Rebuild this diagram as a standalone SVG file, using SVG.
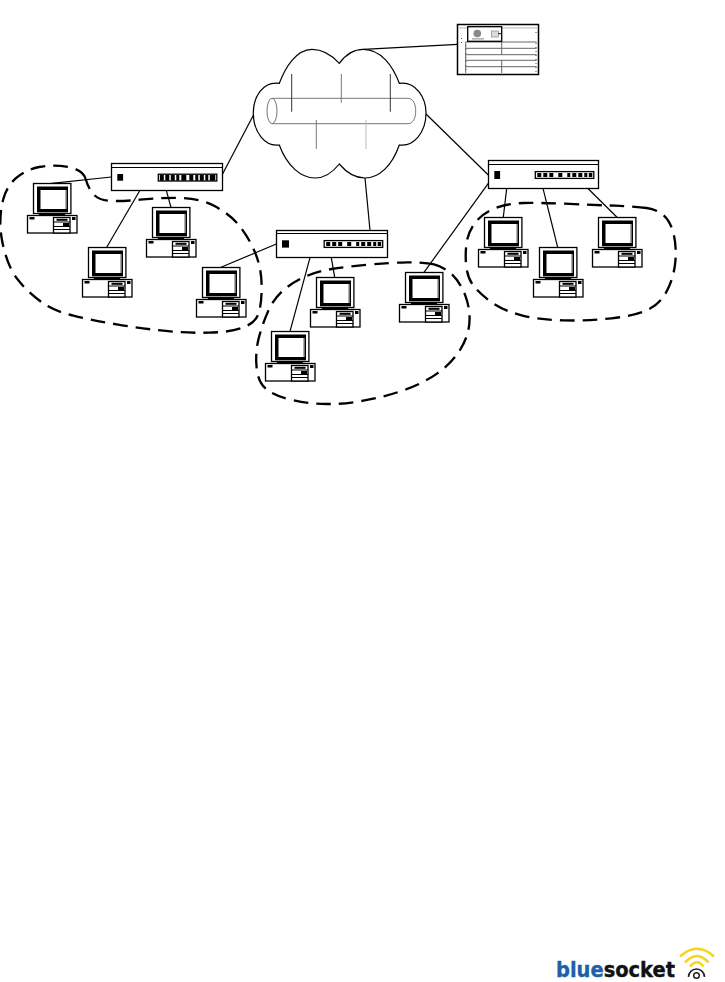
<svg xmlns="http://www.w3.org/2000/svg" xmlns:xlink="http://www.w3.org/1999/xlink" width="725" height="982" viewBox="0 0 725 982">
<style>
.ln{fill:none;stroke:#000;stroke-width:1.2}
.blob{fill:none;stroke:#000;stroke-width:7;stroke-dasharray:44 24}
.box{fill:#fff;stroke:#000;stroke-width:1.3}
.k{fill:#000}
.g{fill:none;stroke:#555;stroke-width:.9}
.logo{font-family:"DejaVu Sans","Liberation Sans",sans-serif;font-weight:700;font-size:21.5px;stroke-width:.4}
</style>
<defs>
<g id="pc">
<rect class="box" x="0" y="0" width="37.4" height="30"/>
<rect class="k" x="3.500" y="3" width="31" height="25.800"/>
<rect x="7" y="6.500" width="25" height="19" fill="#fff"/>
<rect x="32" y="6.500" width="1" height="19" fill="#ddd"/>
<path class="ln" d="M6 30V32M31 30V32M6 31H31"/>
<rect class="box" x="-6" y="32" width="49.500" height="17.500"/>
<rect class="k" x="-4" y="33.500" width="5" height="2.500"/>
<rect class="box" x="20" y="34" width="16.500" height="15.500"/>
<path class="ln" d="M20 38.500H36.500M20 43H36.500M20 46H36.500"/>
<rect class="k" x="23" y="35.300" width="11" height="2"/>
<rect class="k" x="29.500" y="39.500" width="6" height="3.500"/>
<rect class="k" x="38.500" y="33.500" width="3.500" height="3"/>
</g>
<g id="ports">
<rect class="box" x="0" y="0" width="58.500" height="6.800"/>
<path class="k" d="M2 1.500h4v4h-4zM8 1.500h4v4h-4zM14 1.500h4v4h-4zM23 1.500h4v4h-4zM32 1.500h3v4h-3zM37 1.500h4v4h-4zM43 1.500h4v4h-4zM49 1.500h3v4h-3zM53.500 1.500h3.500v4h-3.500z"/>
</g>
<g id="portsDense">
<rect class="box" x="0" y="0" width="58.500" height="6.800"/>
<path class="k" d="M1.500 .5h4v6h-4zM7 .5h4v6h-4zM12.500 .5h4v6h-4zM18 .5h3v6h-3zM23 .5h5v6h-5zM31 .5h4v6h-4zM37 .5h3v6h-3zM41.500 .5h4v6h-4zM47 .5h3v6h-3zM51.500 .5h5.500v6h-5.500z"/>
</g>
</defs>
<g id="connectors" class="ln">
<path d="M363.300 49.300L457.700 44.300"/>
<path d="M221 177L254 114"/>
<path d="M426 114L488.300 175"/>
<path d="M365 178L370 230.300"/>
<path d="M111.300 177L51.700 183.300"/>
<path d="M140 190.300L106.700 247.300"/>
<path d="M166.300 190.300L171 207.300"/>
<path d="M276.300 244L221 267.300"/>
<path d="M331.300 257.700L334.700 277.300"/>
<path d="M310 257.700L290 331.300"/>
<path d="M488.300 183.300L424 272.300"/>
<path d="M506.700 188.300L503.300 217.300"/>
<path d="M543 188.300L557.700 247.300"/>
<path d="M587.700 188.300L617 217.300"/>
</g>
<g id="cloud">
<path fill="#fff" stroke="#000" stroke-width="1.200" d="M339.300 63.300C330 53 321 49.300 312 49.300C296 49.300 285 68 279.300 83.300C262 81 253.300 98 253.300 113C253.300 132 265 147 279.300 145C287 166 301 178 315 178C325 178 333 172 339.300 164C346 172 355 178 365 178C379 178 392 166 399.300 145C414 147 426 132 426 113C426 98 416 81 399.300 83.300C393 66 381 49.300 363.300 49.300C354 49.300 346 54 339.300 63.300Z"/>
<path fill="none" stroke="#777" stroke-width="1" d="M272 98.300H408C413 98.300 415.700 104 415.700 111C415.700 118 413 123.700 408 123.700H272"/>
<ellipse cx="272" cy="111" rx="5" ry="12.700" fill="none" stroke="#777" stroke-width="1"/>
<path fill="none" stroke="#333" stroke-width="1" d="M291.700 74V111.700M390.300 74V111.700"/>
<path fill="none" stroke="#777" stroke-width="1" d="M341.300 74V102.700M316.300 120V149"/>
<path fill="none" stroke="#bbb" stroke-width="1" d="M366 120V149"/>
</g>
<g id="server">
<rect x="457.500" y="24.500" width="81" height="50" fill="#fff" stroke="#000" stroke-width="1.500"/>
<path fill="none" stroke="#999" stroke-width=".7" d="M459 28H537"/>
<path class="g" d="M465.700 42H536.700M465.700 48.300H536.700M465.700 54.700H536.700M465.700 60.300H536.700M465.700 66.700H536.700M501.700 42V54.700M501.700 60.300V73M465.700 42V73"/>
<rect x="467.700" y="26.700" width="34" height="14.600" fill="#fff" stroke="#000" stroke-width="1.300"/>
<circle cx="477.300" cy="33.500" r="3.800" fill="#888"/>
<rect x="491.500" y="31" width="7" height="6" fill="#ddd" stroke="#888" stroke-width=".7"/>
<rect x="472" y="38.500" width="12" height=".8" fill="#666"/>
<rect x="498" y="33" width="3" height="1.200" fill="#333"/>
<path fill="none" stroke="#444" stroke-width="1" stroke-dasharray="1 3" d="M461.500 38V44M536 32V36M536 43V73M465.700 45V72"/>
</g>
<g id="switch1">
<rect class="box" x="111.500" y="163.500" width="111" height="27"/>
<path class="ln" d="M111.500 167.500H222.500"/>
<rect class="k" x="117.300" y="174" width="5.800" height="6.700"/>
<use href="#portsDense" xlink:href="#portsDense" x="158.300" y="174.200"/>
</g>
<g id="switch2">
<rect class="box" x="276.500" y="230.500" width="111" height="27"/>
<path class="ln" d="M276.500 233.500H387.500"/>
<rect class="k" x="282" y="240.300" width="7" height="7.300"/>
<use href="#ports" xlink:href="#ports" x="324.200" y="240.600"/>
</g>
<g id="switch3">
<rect class="box" x="488.500" y="160.500" width="110" height="28"/>
<path class="ln" d="M488.500 164.500H598.500"/>
<rect class="k" x="494.300" y="171" width="5.800" height="8"/>
<use href="#ports" xlink:href="#ports" x="535.300" y="171.600"/>
</g>
<g id="pc1"><use href="#pc" xlink:href="#pc" x="33.500" y="183.500"/></g>
<g id="pc2"><use href="#pc" xlink:href="#pc" x="88.500" y="247.500"/></g>
<g id="pc3"><use href="#pc" xlink:href="#pc" x="152.500" y="207.500"/></g>
<g id="pc4"><use href="#pc" xlink:href="#pc" x="202.500" y="267.500"/></g>
<g id="pc5"><use href="#pc" xlink:href="#pc" x="316.500" y="277.500"/></g>
<g id="pc6"><use href="#pc" xlink:href="#pc" x="271.500" y="331.500"/></g>
<g id="pc7"><use href="#pc" xlink:href="#pc" x="405.500" y="272.500"/></g>
<g id="pc8"><use href="#pc" xlink:href="#pc" x="484.500" y="217.500"/></g>
<g id="pc9"><use href="#pc" xlink:href="#pc" x="539.500" y="247.500"/></g>
<g id="pc10"><use href="#pc" xlink:href="#pc" x="598.500" y="217.500"/></g>
<g id="segments">
<path class="blob" transform="translate(0,155) scale(.33333)" d="M257 72Q250 45 205 36Q160 28 117 36Q75 45 47 70Q20 95 10 132Q0 170 1 210Q2 250 16 297Q30 345 55 376Q80 408 120 438Q160 468 220 482Q280 497 350 508Q420 520 490 527Q560 535 625 533Q690 532 727 518Q765 505 775 477Q785 450 785 395Q785 340 765 292Q745 245 717 211Q690 178 645 154Q600 130 540 129Q480 128 420 134Q360 140 327 137Q295 135 280 117Q265 100 257 72Z"/>
<path class="blob" transform="translate(250,220) scale(.33333)" d="M552 133Q525 127 472 127Q420 128 355 134Q290 140 245 147Q200 155 165 170Q130 185 101 210Q72 235 55 272Q38 310 26 355Q15 400 20 445Q25 490 52 510Q80 530 130 541Q180 552 230 552Q280 553 340 542Q400 532 460 511Q520 490 562 460Q605 430 630 390Q655 350 658 310Q662 270 646 227Q630 185 605 162Q580 140 552 133Z"/>
<path class="blob" transform="translate(460,150) scale(.33333)" d="M560 174Q530 170 465 167Q400 165 315 161Q230 158 190 159Q150 160 112 172Q75 185 52 210Q30 235 22 267Q15 300 18 342Q22 385 41 408Q60 432 95 457Q130 482 185 496Q240 510 310 511Q380 513 455 505Q530 497 566 478Q603 460 622 420Q642 380 646 335Q650 290 641 252Q632 215 611 196Q590 178 560 174Z"/>
</g>
<g id="logo">
<text class="logo" x="556" y="977" textLength="119" lengthAdjust="spacingAndGlyphs"><tspan fill="#1d5fa8" stroke="#1d5fa8">blue</tspan><tspan fill="#111" stroke="#111">socket</tspan></text>
<path fill="none" stroke="#f7d417" stroke-width="2.500" d="M680 956.500Q697 941 714 956.500M685 962.500Q697 949.500 708.500 962.500M690 966.500Q697 958 703.500 966.500"/>
<path fill="none" stroke="#222" stroke-width="1.600" d="M688.500 977A8 8 0 0 1 704.500 977"/>
<circle cx="696.500" cy="975.500" r="2.800" fill="none" stroke="#222" stroke-width="1.500"/>
</g>
</svg>
